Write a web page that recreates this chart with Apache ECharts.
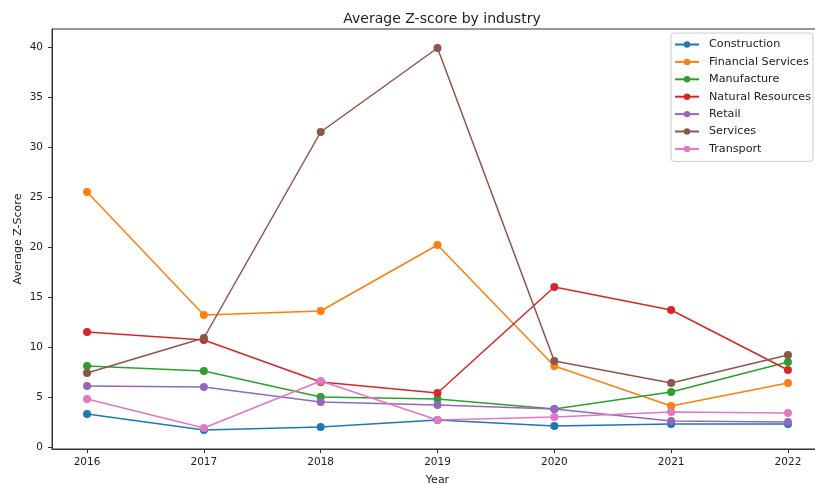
<!DOCTYPE html>
<html><head><meta charset="utf-8">
<script src="https://cdn.jsdelivr.net/npm/echarts@6/dist/echarts.min.js"></script>
<style>html,body{margin:0;padding:0;background:#fff}#c{width:815px;height:484px}</style>
</head><body><div id="c"></div>
<script>
const years = [2016, 2017, 2018, 2019, 2020, 2021, 2022];
const yTicks = [0, 5, 10, 15, 20, 25, 30, 35, 40];
const construction = [3.3, 1.7, 2.0, 2.7, 2.1, 2.3, 2.3];
const financialServices = [25.5, 13.2, 13.6, 20.2, 8.1, 4.1, 6.4];
const manufacture = [8.1, 7.6, 5.0, 4.8, 3.8, 5.5, 8.5];
const naturalResources = [11.5, 10.7, 6.5, 5.4, 16.0, 13.7, 7.7];
const retail = [6.1, 6.0, 4.5, 4.2, 3.8, 2.6, 2.5];
const services = [7.4, 10.9, 31.5, 39.9, 8.6, 6.4, 9.2];
const transport = [4.8, 1.9, 6.6, 2.7, 3.0, 3.5, 3.4];

const seriesDefs = [
  ['Construction', construction, '#1f77b4'],
  ['Financial Services', financialServices, '#ff7f0e'],
  ['Manufacture', manufacture, '#2ca02c'],
  ['Natural Resources', naturalResources, '#d62728'],
  ['Retail', retail, '#9467bd'],
  ['Services', services, '#8c564b'],
  ['Transport', transport, '#e377c2']
];
const font = 'DejaVu Sans';
const chart = echarts.init(document.getElementById('c'), null, {renderer: 'canvas'});
chart.setOption({
  animation: false,
  backgroundColor: '#fff',
  title: {text: 'Average Z-score by industry', left: 437, textAlign: 'center', top: 7,
    textStyle: {fontFamily: font, fontSize: 14, fontWeight: 'normal', color: '#222'}},
  grid: {left: 52, top: 29, width: 771, height: 420, outerBoundsMode: 'none', containLabel: false,
    show: true, borderColor: '#333', borderWidth: 1, backgroundColor: 'transparent'},
  legend: {
    orient: 'vertical', left: 671, top: 33, itemWidth: 24, itemHeight: 8, itemGap: 6.4,
    padding: [6, 2, 7, 3],
    backgroundColor: '#fff', borderColor: '#ccc', borderWidth: 1, borderRadius: 3,
    textStyle: {fontFamily: font, fontSize: 11.2, color: '#222', padding: [0, 0, 0, 5]},
    data: seriesDefs.map(d => d[0])
  },
  xAxis: {
    type: 'value', min: 2015.7, max: 2022.3,
    name: 'Year', nameLocation: 'middle', nameGap: 26, nameMoveOverlap: false,
    nameTextStyle: {fontFamily: font, fontSize: 11, color: '#222'},
    splitLine: {show: false},
    axisLine: {show: true, onZero: false, lineStyle: {color: '#333'}},
    axisTick: {show: true, length: 4, lineStyle: {color: '#333'}, customValues: years},
    axisLabel: {fontFamily: font, fontSize: 10.5, color: '#222', margin: 8, customValues: years,
      formatter: v => String(v)}
  },
  yAxis: {
    type: 'value', min: -0.2, max: 41.8,
    name: 'Average Z-Score', nameLocation: 'middle', nameGap: 28, nameRotate: 90, nameMoveOverlap: false,
    nameTextStyle: {fontFamily: font, fontSize: 11, color: '#222'},
    splitLine: {show: false},
    axisLine: {show: true, onZero: false, lineStyle: {color: '#333'}},
    axisTick: {show: true, length: 4, lineStyle: {color: '#333'}, customValues: yTicks},
    axisLabel: {fontFamily: font, fontSize: 10.5, color: '#222', margin: 9, customValues: yTicks,
      formatter: v => String(v)}
  },
  series: seriesDefs.map(([name, vals, color]) => ({
    name, type: 'line', color,
    data: years.map((y, i) => [y, vals[i]]),
    symbol: 'circle', symbolSize: 8,
    lineStyle: {width: 1.5, color},
    itemStyle: {color},
    emphasis: {disabled: true}
  }))
});
</script></body></html>
